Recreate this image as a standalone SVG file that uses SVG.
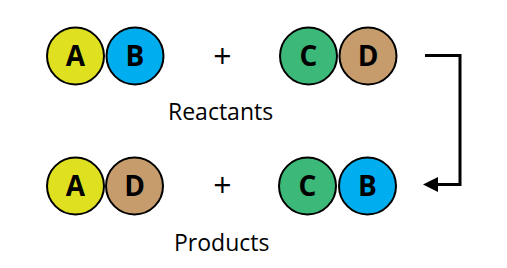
<svg xmlns="http://www.w3.org/2000/svg" width="507" height="268" viewBox="0 0 507 268">
<style>
.c{stroke:#000;stroke-width:2}
.l{font-family:"Open Sans","Liberation Sans",sans-serif;font-weight:700;font-size:28px;text-anchor:middle;fill:#000}
.t{font-family:"Open Sans","Liberation Sans",sans-serif;font-size:23px;fill:#000}
.p{font-family:"Open Sans","Liberation Sans",sans-serif;font-size:32px;text-anchor:middle;fill:#000}
</style>
<defs>
<marker id="ah" viewBox="0 0 10 10" refX="0" refY="5" markerWidth="5" markerHeight="5" orient="auto" markerUnits="strokeWidth">
<path d="M0,0L10,5L0,10z" fill="#000"/>
</marker>
</defs>
<rect width="507" height="268" fill="#fff"/>
<g id="A1"><circle class="c" cx="75.5" cy="56" r="28.5" fill="#dfe01f"/><text class="l" x="75.5" y="66">A</text></g>
<g id="B1"><circle class="c" cx="135" cy="56" r="28.5" fill="#00aeef"/><text class="l" x="135" y="66">B</text></g>
<g id="plus1"><text class="p" x="222.5" y="67.5">+</text></g>
<g id="C1"><circle class="c" cx="308.5" cy="56" r="28.5" fill="#3cb878"/><text class="l" x="308.5" y="66">C</text></g>
<g id="D1"><circle class="c" cx="368" cy="56" r="28.5" fill="#c69c6d"/><text class="l" x="368" y="66">D</text></g>
<g id="reactants"><text class="t" x="168" y="120">Reactants</text></g>
<g id="A2"><circle class="c" cx="75.5" cy="186" r="28.5" fill="#dfe01f"/><text class="l" x="75.5" y="196">A</text></g>
<g id="D2"><circle class="c" cx="134.5" cy="186" r="28.5" fill="#c69c6d"/><text class="l" x="134.5" y="196">D</text></g>
<g id="plus2"><text class="p" x="222.5" y="197">+</text></g>
<g id="C2"><circle class="c" cx="307.5" cy="186" r="28.5" fill="#3cb878"/><text class="l" x="307.5" y="196">C</text></g>
<g id="B2"><circle class="c" cx="367.5" cy="186" r="28.5" fill="#00aeef"/><text class="l" x="367.5" y="196">B</text></g>
<g id="products"><text class="t" x="174" y="251">Products</text></g>
<g id="connectors">
<path d="M425,55.5H460V184.5H438" fill="none" stroke="#000" stroke-width="3" marker-end="url(#ah)"/>
</g>
</svg>
